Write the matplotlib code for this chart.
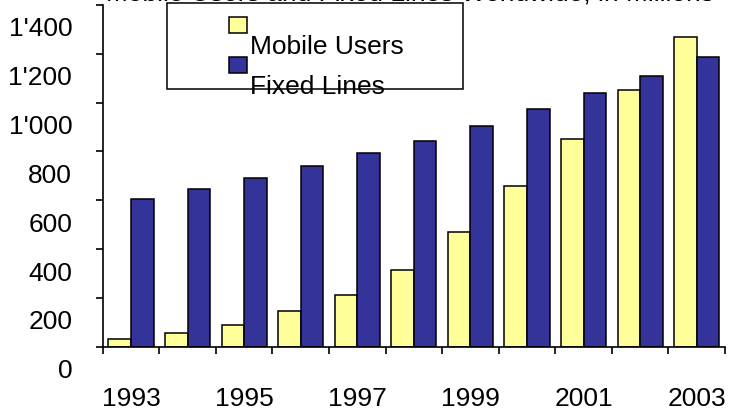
import matplotlib
matplotlib.use("Agg")
import matplotlib.pyplot as plt
import matplotlib.patches as mpatches
from matplotlib.transforms import ScaledTranslation
import numpy as np

plt.rcParams['font.family'] = ['Liberation Sans', 'DejaVu Sans']

# data (millions)
years = [1993, 1994, 1995, 1996, 1997, 1998, 1999, 2000, 2001, 2002, 2003]
mobile_users = [33, 56, 89, 145, 212, 316, 470, 660, 850, 1052, 1270]
fixed_lines = [605, 645, 690, 740, 793, 843, 905, 975, 1040, 1110, 1185]
year_labels = ["1993", "1995", "1997", "1999", "2001", "2003"]
y_ticks = [0, 200, 400, 600, 800, 1000, 1200, 1400]
y_labels = ["0", "200", "400", "600", "800", "1'000", "1'200", "1'400"]
series_names = ["Mobile Users", "Fixed Lines"]

YELLOW = "#FFFF99"
BLUE = "#333399"
W, H = 729, 417
FS = 19

fig = plt.figure(figsize=(W / 100, H / 100), dpi=100)
ax = fig.add_axes([102.7 / W, (H - 346.7) / H, (725 - 102.7) / W, (346.7 - 5) / H])

x = np.arange(len(years))
bw = 0.4
ax.bar(x - bw / 2, mobile_users, width=bw, color=YELLOW, edgecolor="black", linewidth=1.1, zorder=2)
ax.bar(x + bw / 2, fixed_lines, width=bw, color=BLUE, edgecolor="black", linewidth=1.1, zorder=2)

ax.set_xlim(-0.5, len(years) - 0.5)
ax.set_ylim(0, 1400)

for side in ["top", "right"]:
    ax.spines[side].set_visible(False)
for side in ["left", "bottom"]:
    ax.spines[side].set_linewidth(1.2)

# category boundary ticks, labels at every other group
ax.set_xticks(np.arange(-0.5, len(years), 1.0))
ax.set_xticklabels([])
ax.tick_params(axis="x", which="major", direction="out", length=5, width=1.2)
ax.set_xticks(x[::2], minor=True)
ax.set_xticklabels(year_labels, minor=True, fontsize=FS)
ax.tick_params(axis="x", which="minor", length=0, pad=29)

ax.set_yticks(y_ticks)
ax.set_yticklabels(y_labels, fontsize=FS)
ax.tick_params(axis="y", direction="out", length=5, width=1.2, pad=17)
offset = ScaledTranslation(0, -22 / 100, fig.dpi_scale_trans)
for lbl in ax.get_yticklabels():
    lbl.set_transform(lbl.get_transform() + offset)


def fx(px):
    return px / W


def fy(py):
    return (H - py) / H


# legend drawn by hand (Excel-style layout)
fig.patches.append(mpatches.Rectangle((fx(167), fy(89)), fx(463) - fx(167), fy(3) - fy(89),
                                      transform=fig.transFigure, facecolor="white",
                                      edgecolor="black", linewidth=1.1, zorder=3))
for top, col, name in [(17, YELLOW, series_names[0]), (57, BLUE, series_names[1])]:
    fig.patches.append(mpatches.Rectangle((fx(229), fy(top + 16)), fx(247) - fx(229), fy(top) - fy(top + 16),
                                          transform=fig.transFigure, facecolor=col,
                                          edgecolor="black", linewidth=1.1, zorder=4))
    fig.text(fx(250), fy(top + 37), name, fontsize=FS, ha="left", va="baseline", zorder=5)

# title, mostly cut off at the top edge
fig.text(fx(410), fy(0.0), "Mobile Users and Fixed Lines Worldwide, in Millions",
         fontsize=FS, ha="center", va="baseline")

fig.savefig("out.png", dpi=100)
